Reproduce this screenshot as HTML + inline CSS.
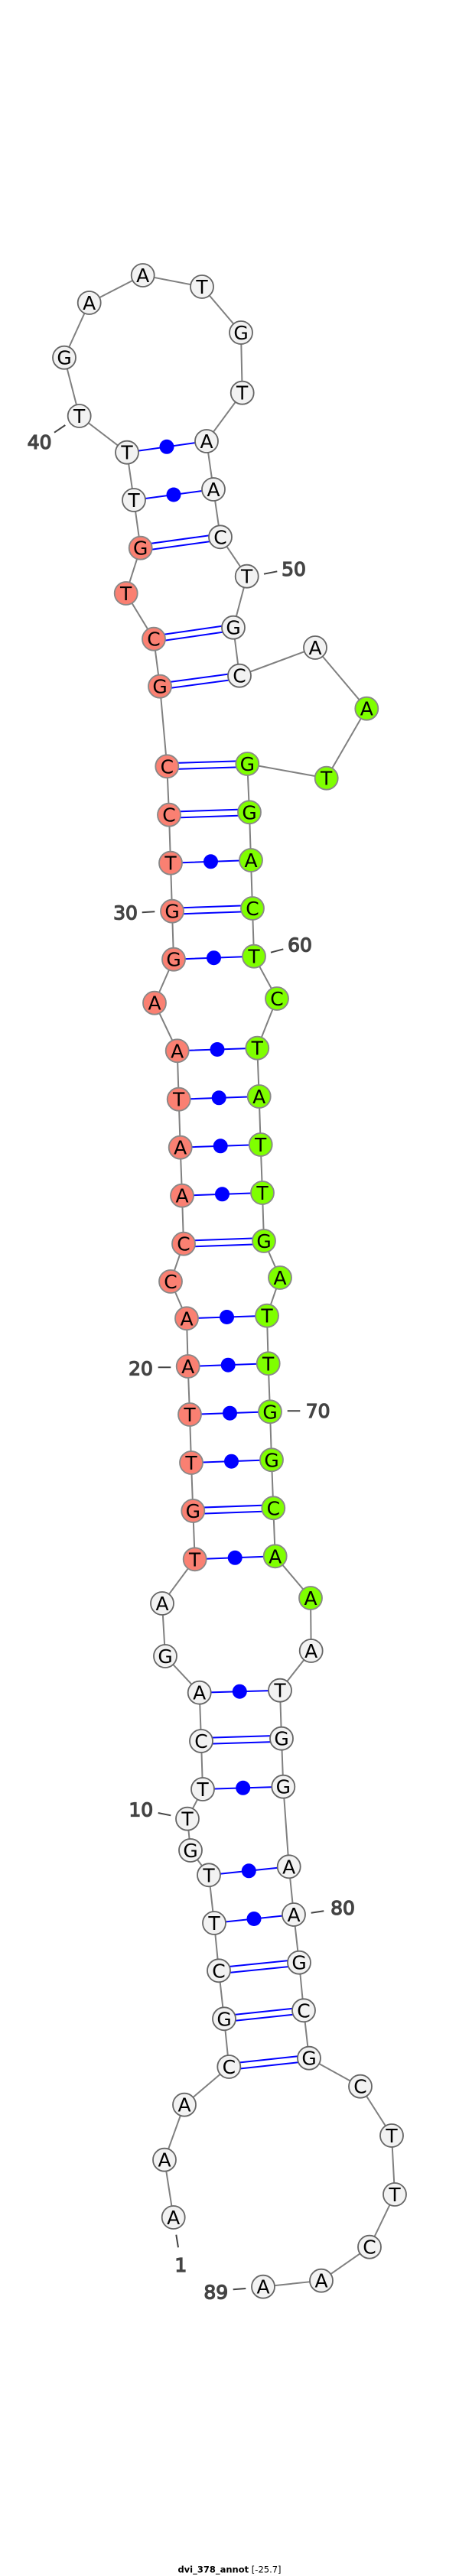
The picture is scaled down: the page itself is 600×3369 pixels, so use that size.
<!DOCTYPE html>
<html><head><meta charset="utf-8"><style>
html,body{margin:0;padding:0;background:#fff}
svg{display:block}
text{font-family:"DejaVu Sans","Liberation Sans",sans-serif}
.n text{font-size:25px;text-anchor:middle;fill:#000}
.n circle{r:15px;stroke-width:1.8px}
.w circle{fill:#f2f2f2;stroke:#666}
.s circle{fill:#fa8072;stroke:#888}
.g circle{fill:#7fff00;stroke:#888}
.l{font-size:25px;fill:#444;stroke:#444;stroke-width:1.3px;text-anchor:middle}
</style></head><body>
<svg width="600" height="3369" viewBox="0 0 600 3369" xmlns="http://www.w3.org/2000/svg">
<polyline fill="none" stroke="#808080" stroke-width="2" points="226.7,2900 215,2824.7 241,2752.7 299.3,2703 293,2640.3 286,2577.3 280,2515 273,2452.3 249,2420 245,2378.7 265,2340 263,2277 260.7,2213.7 216,2166 212,2097 254.7,2039.3 252.3,1976 250,1913 248,1850 245.7,1787 244,1724.3 223,1676 240,1626.7 238,1563.7 235.7,1500.7 233.7,1437.7 231.7,1374.3 202,1311.7 227,1254.7 225,1191.7 223,1128.7 221,1065.7 218.3,1002.3 209,897.7 201,835.7 164.7,776 183.7,716.7 175,654 166,591.7 103.7,544 84,467.7 116.7,396 186.7,360 264,375 315,435 316.7,513.7 270,577 279,640 288,702.3 322.7,753.7 305,820.7 313,883.7 412,847 479.3,926.7 426.7,1017.7 323.3,999 326,1062.3 328,1125 330,1188 332,1250.7 362,1306 336.3,1370.7 338.7,1434 340.7,1497 343,1560 345,1623 366,1671 349,1720.7 350.7,1783.3 353,1846.3 355,1909.3 357.3,1972.3 359.7,2035.3 406,2090 406.7,2159 366,2210.7 368,2273.7 370.3,2336.7 377.7,2441.3 384,2504 391,2566.7 397,2629.3 404,2691.7 471,2728.7 512,2793 516,2870 483,2938.7 420,2982.7 344,2990.7"/>
<!-- single pairs -->
<path fill="none" stroke="#0000ff" stroke-width="2" d="M280,2515L384,2504M273,2452.3L377.7,2441.3M265,2340L370.3,2336.7M260.7,2213.7L366,2210.7M254.7,2039.3L359.7,2035.3M250,1913L355,1909.3M248,1850L353,1846.3M245.7,1787L350.7,1783.3M244,1724.3L349,1720.7M238,1563.7L343,1560M235.7,1500.7L340.7,1497M233.7,1437.7L338.7,1434M231.7,1374.3L336.3,1370.7M227,1254.7L332,1250.7M223,1128.7L328,1125M175,654L279,640M166,591.7L270,577"/>
<g fill="#0000ff">
<circle cx="332" cy="2509.5" r="9.5"/><circle cx="325.3" cy="2446.8" r="9.5"/><circle cx="317.7" cy="2338.3" r="9.5"/><circle cx="313.3" cy="2212.2" r="9.5"/><circle cx="307.2" cy="2037.3" r="9.5"/><circle cx="302.5" cy="1911.2" r="9.5"/><circle cx="300.5" cy="1848.2" r="9.5"/><circle cx="298.2" cy="1785.2" r="9.5"/><circle cx="296.5" cy="1722.5" r="9.5"/><circle cx="290.5" cy="1561.8" r="9.5"/><circle cx="288.2" cy="1498.8" r="9.5"/><circle cx="286.2" cy="1435.8" r="9.5"/><circle cx="284" cy="1372.5" r="9.5"/><circle cx="279.5" cy="1252.7" r="9.5"/><circle cx="275.5" cy="1126.8" r="9.5"/><circle cx="227" cy="647" r="9.5"/><circle cx="218" cy="584.3" r="9.5"/>
</g>
<!-- double pairs -->
<path fill="none" stroke="#0000ff" stroke-width="10" d="M299.3,2703L404,2691.7M293,2640.3L397,2629.3M286,2577.3L391,2566.7M263,2277L368,2273.7M252.3,1976L357.3,1972.3M240,1626.7L345,1623M225,1191.7L330,1188M221,1065.7L326,1062.3M218.3,1002.3L323.3,999M209,897.7L313,883.7M201,835.7L305,820.7M183.7,716.7L288,702.3"/>
<path fill="none" stroke="#ffffff" stroke-width="6" d="M299.3,2703L404,2691.7M293,2640.3L397,2629.3M286,2577.3L391,2566.7M263,2277L368,2273.7M252.3,1976L357.3,1972.3M240,1626.7L345,1623M225,1191.7L330,1188M221,1065.7L326,1062.3M218.3,1002.3L323.3,999M209,897.7L313,883.7M201,835.7L305,820.7M183.7,716.7L288,702.3"/>
<!-- label ticks -->
<path fill="none" stroke="#444" stroke-width="2" d="M71,565.7L85.3,556M345,750.7L362.3,747.3M185.7,1193.3L202.3,1192.3M354,1245.7L370.3,1241.3M206.7,1788.3L223.3,1788.3M375.7,1845.3L392.3,1845.3M206.7,2371L223.3,2374.3M406.7,2501.7L423.3,2499.3M230.3,2922.7L233,2939.3M304.7,2994.3L321.3,2993"/>
<!-- nodes -->
<g class="n w">
<g transform="translate(226.7,2900)"><circle/><text y="9">A</text></g>
<g transform="translate(215,2824.7)"><circle/><text y="9">A</text></g>
<g transform="translate(241,2752.7)"><circle/><text y="9">A</text></g>
<g transform="translate(299.3,2703)"><circle/><text y="9">C</text></g>
<g transform="translate(293,2640.3)"><circle/><text y="9">G</text></g>
<g transform="translate(286,2577.3)"><circle/><text y="9">C</text></g>
<g transform="translate(280,2515)"><circle/><text y="9">T</text></g>
<g transform="translate(273,2452.3)"><circle/><text y="9">T</text></g>
<g transform="translate(249,2420)"><circle/><text y="9">G</text></g>
<g transform="translate(245,2378.7)"><circle/><text y="9">T</text></g>
<g transform="translate(265,2340)"><circle/><text y="9">T</text></g>
<g transform="translate(263,2277)"><circle/><text y="9">C</text></g>
<g transform="translate(260.7,2213.7)"><circle/><text y="9">A</text></g>
<g transform="translate(216,2166)"><circle/><text y="9">G</text></g>
<g transform="translate(212,2097)"><circle/><text y="9">A</text></g>
</g>
<g class="n s">
<g transform="translate(254.7,2039.3)"><circle/><text y="9">T</text></g>
<g transform="translate(252.3,1976)"><circle/><text y="9">G</text></g>
<g transform="translate(250,1913)"><circle/><text y="9">T</text></g>
<g transform="translate(248,1850)"><circle/><text y="9">T</text></g>
<g transform="translate(245.7,1787)"><circle/><text y="9">A</text></g>
<g transform="translate(244,1724.3)"><circle/><text y="9">A</text></g>
<g transform="translate(223,1676)"><circle/><text y="9">C</text></g>
<g transform="translate(240,1626.7)"><circle/><text y="9">C</text></g>
<g transform="translate(238,1563.7)"><circle/><text y="9">A</text></g>
<g transform="translate(235.7,1500.7)"><circle/><text y="9">A</text></g>
<g transform="translate(233.7,1437.7)"><circle/><text y="9">T</text></g>
<g transform="translate(231.7,1374.3)"><circle/><text y="9">A</text></g>
<g transform="translate(202,1311.7)"><circle/><text y="9">A</text></g>
<g transform="translate(227,1254.7)"><circle/><text y="9">G</text></g>
<g transform="translate(225,1191.7)"><circle/><text y="9">G</text></g>
<g transform="translate(223,1128.7)"><circle/><text y="9">T</text></g>
<g transform="translate(221,1065.7)"><circle/><text y="9">C</text></g>
<g transform="translate(218.3,1002.3)"><circle/><text y="9">C</text></g>
<g transform="translate(209,897.7)"><circle/><text y="9">G</text></g>
<g transform="translate(201,835.7)"><circle/><text y="9">C</text></g>
<g transform="translate(164.7,776)"><circle/><text y="9">T</text></g>
<g transform="translate(183.7,716.7)"><circle/><text y="9">G</text></g>
</g>
<g class="n w">
<g transform="translate(175,654)"><circle/><text y="9">T</text></g>
<g transform="translate(166,591.7)"><circle/><text y="9">T</text></g>
<g transform="translate(103.7,544)"><circle/><text y="9">T</text></g>
<g transform="translate(84,467.7)"><circle/><text y="9">G</text></g>
<g transform="translate(116.7,396)"><circle/><text y="9">A</text></g>
<g transform="translate(186.7,360)"><circle/><text y="9">A</text></g>
<g transform="translate(264,375)"><circle/><text y="9">T</text></g>
<g transform="translate(315,435)"><circle/><text y="9">G</text></g>
<g transform="translate(316.7,513.7)"><circle/><text y="9">T</text></g>
<g transform="translate(270,577)"><circle/><text y="9">A</text></g>
<g transform="translate(279,640)"><circle/><text y="9">A</text></g>
<g transform="translate(288,702.3)"><circle/><text y="9">C</text></g>
<g transform="translate(322.7,753.7)"><circle/><text y="9">T</text></g>
<g transform="translate(305,820.7)"><circle/><text y="9">G</text></g>
<g transform="translate(313,883.7)"><circle/><text y="9">C</text></g>
<g transform="translate(412,847)"><circle/><text y="9">A</text></g>
</g>
<g class="n g">
<g transform="translate(479.3,926.7)"><circle/><text y="9">A</text></g>
<g transform="translate(426.7,1017.7)"><circle/><text y="9">T</text></g>
<g transform="translate(323.3,999)"><circle/><text y="9">G</text></g>
<g transform="translate(326,1062.3)"><circle/><text y="9">G</text></g>
<g transform="translate(328,1125)"><circle/><text y="9">A</text></g>
<g transform="translate(330,1188)"><circle/><text y="9">C</text></g>
<g transform="translate(332,1250.7)"><circle/><text y="9">T</text></g>
<g transform="translate(362,1306)"><circle/><text y="9">C</text></g>
<g transform="translate(336.3,1370.7)"><circle/><text y="9">T</text></g>
<g transform="translate(338.7,1434)"><circle/><text y="9">A</text></g>
<g transform="translate(340.7,1497)"><circle/><text y="9">T</text></g>
<g transform="translate(343,1560)"><circle/><text y="9">T</text></g>
<g transform="translate(345,1623)"><circle/><text y="9">G</text></g>
<g transform="translate(366,1671)"><circle/><text y="9">A</text></g>
<g transform="translate(349,1720.7)"><circle/><text y="9">T</text></g>
<g transform="translate(350.7,1783.3)"><circle/><text y="9">T</text></g>
<g transform="translate(353,1846.3)"><circle/><text y="9">G</text></g>
<g transform="translate(355,1909.3)"><circle/><text y="9">G</text></g>
<g transform="translate(357.3,1972.3)"><circle/><text y="9">C</text></g>
<g transform="translate(359.7,2035.3)"><circle/><text y="9">A</text></g>
<g transform="translate(406,2090)"><circle/><text y="9">A</text></g>
</g>
<g class="n w">
<g transform="translate(406.7,2159)"><circle/><text y="9">A</text></g>
<g transform="translate(366,2210.7)"><circle/><text y="9">T</text></g>
<g transform="translate(368,2273.7)"><circle/><text y="9">G</text></g>
<g transform="translate(370.3,2336.7)"><circle/><text y="9">G</text></g>
<g transform="translate(377.7,2441.3)"><circle/><text y="9">A</text></g>
<g transform="translate(384,2504)"><circle/><text y="9">A</text></g>
<g transform="translate(391,2566.7)"><circle/><text y="9">G</text></g>
<g transform="translate(397,2629.3)"><circle/><text y="9">C</text></g>
<g transform="translate(404,2691.7)"><circle/><text y="9">G</text></g>
<g transform="translate(471,2728.7)"><circle/><text y="9">C</text></g>
<g transform="translate(512,2793)"><circle/><text y="9">T</text></g>
<g transform="translate(516,2870)"><circle/><text y="9">T</text></g>
<g transform="translate(483,2938.7)"><circle/><text y="9">C</text></g>
<g transform="translate(420,2982.7)"><circle/><text y="9">A</text></g>
<g transform="translate(344,2990.7)"><circle/><text y="9">A</text></g>
</g>
<!-- labels -->
<text class="l" x="51.7" y="587">40</text>
<text class="l" x="384" y="753">50</text>
<text class="l" x="164" y="1202.5">30</text>
<text class="l" x="392" y="1244.5">60</text>
<text class="l" x="184" y="1798.5">20</text>
<text class="l" x="415.7" y="1854">70</text>
<text class="l" x="184.3" y="2375.5">10</text>
<text class="l" x="448" y="2504">80</text>
<text class="l" x="236.3" y="2971">1</text>
<text class="l" x="282.3" y="3006.5">89</text>
<text x="300" y="3364.5" text-anchor="middle" font-size="11.5" fill="#000"><tspan font-weight="bold">dvi_378_annot</tspan> [-25.7]</text>
</svg>
</body></html>
